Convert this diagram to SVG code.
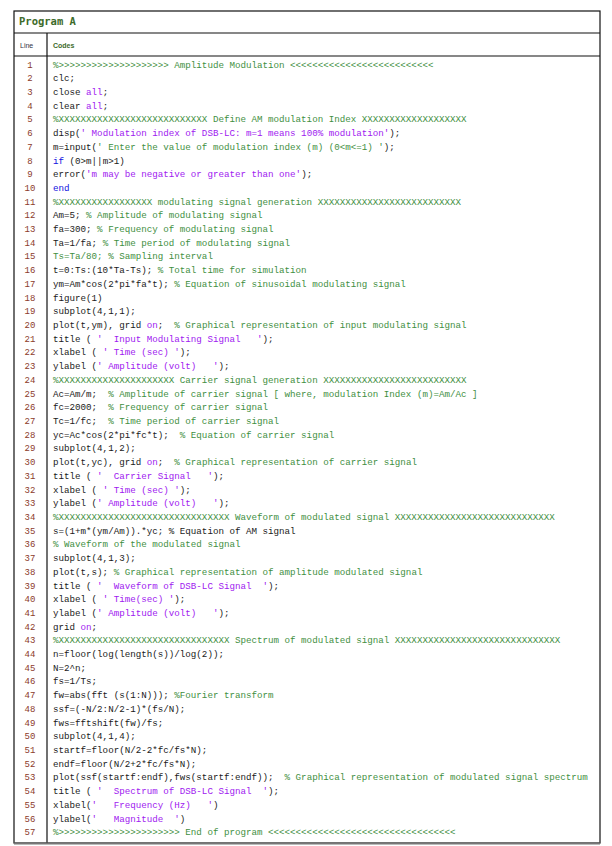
<svg xmlns="http://www.w3.org/2000/svg" width="612" height="846" viewBox="0 0 612 846">
<style>
text{font-family:"Liberation Mono","DejaVu Sans Mono",monospace;font-size:9.2px;white-space:pre;fill:#1a1a1a}
.n{fill:#8b3a2a;text-anchor:middle;font-size:9px}
.c{fill:#3f8f3f}
.s{fill:#a020f0}
.k{fill:#a020f0}
.b{fill:#1010e0}
.h{font-family:"Liberation Sans",Arial,sans-serif;fill:#3d6b2a;font-weight:bold}
.ln{stroke:#111;stroke-width:1.2;fill:none}
</style>
<rect width="612" height="846" fill="#fff"/>
<g id="table">
<rect x="14" y="11" width="586" height="832" class="ln"/>
<line x1="14" y1="33" x2="600" y2="33" class="ln"/>
<line x1="14" y1="56" x2="600" y2="56" class="ln"/>
<line x1="47" y1="33" x2="47" y2="843" class="ln"/>
<line x1="14" y1="843.5" x2="600" y2="843.5" stroke="#777" stroke-width="2"/>
<text x="19" y="25" class="h" style="font-family:'DejaVu Sans Mono',monospace;font-size:10.5px">Program A</text>
<text x="20" y="48" class="h" style="font-size:7px;font-weight:normal;fill:#334">Line</text>
<text x="53" y="48" class="h" style="font-size:7px;fill:#3d6b2a">Codes</text>
</g>
<g id="numbers">
<text class="n" x="30" y="67.5">1</text><text class="n" x="30" y="81.2">2</text><text class="n" x="30" y="94.9">3</text><text class="n" x="30" y="108.6">4</text><text class="n" x="30" y="122.3">5</text><text class="n" x="30" y="136.1">6</text><text class="n" x="30" y="149.8">7</text><text class="n" x="30" y="163.5">8</text><text class="n" x="30" y="177.2">9</text><text class="n" x="30" y="190.9">10</text><text class="n" x="30" y="204.6">11</text><text class="n" x="30" y="218.3">12</text><text class="n" x="30" y="232">13</text><text class="n" x="30" y="245.7">14</text><text class="n" x="30" y="259.4">15</text><text class="n" x="30" y="273.2">16</text><text class="n" x="30" y="286.9">17</text><text class="n" x="30" y="300.6">18</text><text class="n" x="30" y="314.3">19</text><text class="n" x="30" y="328">20</text><text class="n" x="30" y="341.7">21</text><text class="n" x="30" y="355.4">22</text><text class="n" x="30" y="369.1">23</text><text class="n" x="30" y="382.8">24</text><text class="n" x="30" y="396.5">25</text><text class="n" x="30" y="410.3">26</text><text class="n" x="30" y="424">27</text><text class="n" x="30" y="437.7">28</text><text class="n" x="30" y="451.4">29</text><text class="n" x="30" y="465.1">30</text><text class="n" x="30" y="478.8">31</text><text class="n" x="30" y="492.5">32</text><text class="n" x="30" y="506.2">33</text><text class="n" x="30" y="519.9">34</text><text class="n" x="30" y="533.6">35</text><text class="n" x="30" y="547.4">36</text><text class="n" x="30" y="561.1">37</text><text class="n" x="30" y="574.8">38</text><text class="n" x="30" y="588.5">39</text><text class="n" x="30" y="602.2">40</text><text class="n" x="30" y="615.9">41</text><text class="n" x="30" y="629.6">42</text><text class="n" x="30" y="643.3">43</text><text class="n" x="30" y="657">44</text><text class="n" x="30" y="670.7">45</text><text class="n" x="30" y="684.4">46</text><text class="n" x="30" y="698.2">47</text><text class="n" x="30" y="711.9">48</text><text class="n" x="30" y="725.6">49</text><text class="n" x="30" y="739.3">50</text><text class="n" x="30" y="753">51</text><text class="n" x="30" y="766.7">52</text><text class="n" x="30" y="780.4">53</text><text class="n" x="30" y="794.1">54</text><text class="n" x="30" y="807.8">55</text><text class="n" x="30" y="821.5">56</text><text class="n" x="30" y="835.2">57</text>
</g>
<g id="code">
<text x="53" y="67.5" class="c">%&gt;&gt;&gt;&gt;&gt;&gt;&gt;&gt;&gt;&gt;&gt;&gt;&gt;&gt;&gt;&gt;&gt;&gt;&gt;&gt; Amplitude Modulation &lt;&lt;&lt;&lt;&lt;&lt;&lt;&lt;&lt;&lt;&lt;&lt;&lt;&lt;&lt;&lt;&lt;&lt;&lt;&lt;&lt;&lt;&lt;&lt;&lt;&lt;</text>
<text x="53" y="81.2">clc;</text>
<text x="53" y="94.9">close <tspan class="k">all</tspan>;</text>
<text x="53" y="108.6">clear <tspan class="k">all</tspan>;</text>
<text x="53" y="122.3" class="c">%XXXXXXXXXXXXXXXXXXXXXXXXXXX Define AM modulation Index XXXXXXXXXXXXXXXXXXX</text>
<text x="53" y="136.1">disp(<tspan class="s">' Modulation index of DSB-LC: m=1 means 100% modulation'</tspan>);</text>
<text x="53" y="149.8">m=input(<tspan class="c">' Enter the value of modulation index (m) (0&lt;m&lt;=1) '</tspan>);</text>
<text x="53" y="163.5"><tspan class="b">if</tspan> (0&gt;m||m&gt;1)</text>
<text x="53" y="177.2">error(<tspan class="s">'m may be negative or greater than one'</tspan>);</text>
<text x="53" y="190.9" class="b">end</text>
<text x="53" y="204.6" class="c">%XXXXXXXXXXXXXXXXX modulating signal generation XXXXXXXXXXXXXXXXXXXXXXXXXX</text>
<text x="53" y="218.3">Am=5; <tspan class="c">% Amplitude of modulating signal</tspan></text>
<text x="53" y="232">fa=300; <tspan class="c">% Frequency of modulating signal</tspan></text>
<text x="53" y="245.7">Ta=1/fa; <tspan class="c">% Time period of modulating signal</tspan></text>
<text x="53" y="259.4" class="c">Ts=Ta/80; % Sampling interval</text>
<text x="53" y="273.2">t=0:Ts:(10*Ta-Ts); <tspan class="c">% Total time for simulation</tspan></text>
<text x="53" y="286.9">ym=Am*cos(2*pi*fa*t); <tspan class="c">% Equation of sinusoidal modulating signal</tspan></text>
<text x="53" y="300.6">figure(1)</text>
<text x="53" y="314.3">subplot(4,1,1);</text>
<text x="53" y="328">plot(t,ym), grid <tspan class="k">on</tspan>;  <tspan class="c">% Graphical representation of input modulating signal</tspan></text>
<text x="53" y="341.7">title ( <tspan class="s">'  Input Modulating Signal   '</tspan>);</text>
<text x="53" y="355.4">xlabel ( <tspan class="s">' Time (sec) '</tspan>);</text>
<text x="53" y="369.1">ylabel (<tspan class="s">' Amplitude (volt)   '</tspan>);</text>
<text x="53" y="382.8" class="c">%XXXXXXXXXXXXXXXXXXXXX Carrier signal generation XXXXXXXXXXXXXXXXXXXXXXXXXX</text>
<text x="53" y="396.5">Ac=Am/m;  <tspan class="c">% Amplitude of carrier signal [ where, modulation Index (m)=Am/Ac ]</tspan></text>
<text x="53" y="410.3">fc=2000;  <tspan class="c">% Frequency of carrier signal</tspan></text>
<text x="53" y="424">Tc=1/fc;  <tspan class="c">% Time period of carrier signal</tspan></text>
<text x="53" y="437.7">yc=Ac*cos(2*pi*fc*t);  <tspan class="c">% Equation of carrier signal</tspan></text>
<text x="53" y="451.4">subplot(4,1,2);</text>
<text x="53" y="465.1">plot(t,yc), grid <tspan class="k">on</tspan>;  <tspan class="c">% Graphical representation of carrier signal</tspan></text>
<text x="53" y="478.8">title ( <tspan class="s">'  Carrier Signal   '</tspan>);</text>
<text x="53" y="492.5">xlabel ( <tspan class="s">' Time (sec) '</tspan>);</text>
<text x="53" y="506.2">ylabel (<tspan class="s">' Amplitude (volt)   '</tspan>);</text>
<text x="53" y="519.9" class="c">%XXXXXXXXXXXXXXXXXXXXXXXXXXXXXXX Waveform of modulated signal XXXXXXXXXXXXXXXXXXXXXXXXXXXXX</text>
<text x="53" y="533.6">s=(1+m*(ym/Am)).*yc; % Equation of AM signal</text>
<text x="53" y="547.4" class="c">% Waveform of the modulated signal</text>
<text x="53" y="561.1">subplot(4,1,3);</text>
<text x="53" y="574.8">plot(t,s); <tspan class="c">% Graphical representation of amplitude modulated signal</tspan></text>
<text x="53" y="588.5">title ( <tspan class="s">'  Waveform of DSB-LC Signal  '</tspan>);</text>
<text x="53" y="602.2">xlabel ( <tspan class="s">' Time(sec) '</tspan>);</text>
<text x="53" y="615.9">ylabel (<tspan class="s">' Amplitude (volt)   '</tspan>);</text>
<text x="53" y="629.6">grid <tspan class="k">on</tspan>;</text>
<text x="53" y="643.3" class="c">%XXXXXXXXXXXXXXXXXXXXXXXXXXXXXXX Spectrum of modulated signal XXXXXXXXXXXXXXXXXXXXXXXXXXXXXX</text>
<text x="53" y="657">n=floor(log(length(s))/log(2));</text>
<text x="53" y="670.7">N=2^n;</text>
<text x="53" y="684.4">fs=1/Ts;</text>
<text x="53" y="698.2">fw=abs(fft (s(1:N))); <tspan class="c">%Fourier transform</tspan></text>
<text x="53" y="711.9">ssf=(-N/2:N/2-1)*(fs/N);</text>
<text x="53" y="725.6">fws=fftshift(fw)/fs;</text>
<text x="53" y="739.3">subplot(4,1,4);</text>
<text x="53" y="753">startf=floor(N/2-2*fc/fs*N);</text>
<text x="53" y="766.7">endf=floor(N/2+2*fc/fs*N);</text>
<text x="53" y="780.4">plot(ssf(startf:endf),fws(startf:endf));  <tspan class="c">% Graphical representation of modulated signal spectrum</tspan></text>
<text x="53" y="794.1">title ( <tspan class="s">'  Spectrum of DSB-LC Signal  '</tspan>);</text>
<text x="53" y="807.8">xlabel(<tspan class="s">'   Frequency (Hz)   '</tspan>)</text>
<text x="53" y="821.5">ylabel(<tspan class="s">'   Magnitude  '</tspan>)</text>
<text x="53" y="835.2" class="c">%&gt;&gt;&gt;&gt;&gt;&gt;&gt;&gt;&gt;&gt;&gt;&gt;&gt;&gt;&gt;&gt;&gt;&gt;&gt;&gt;&gt;&gt; End of program &lt;&lt;&lt;&lt;&lt;&lt;&lt;&lt;&lt;&lt;&lt;&lt;&lt;&lt;&lt;&lt;&lt;&lt;&lt;&lt;&lt;&lt;&lt;&lt;&lt;&lt;&lt;&lt;&lt;&lt;&lt;&lt;&lt;&lt;</text>
</g>
</svg>
